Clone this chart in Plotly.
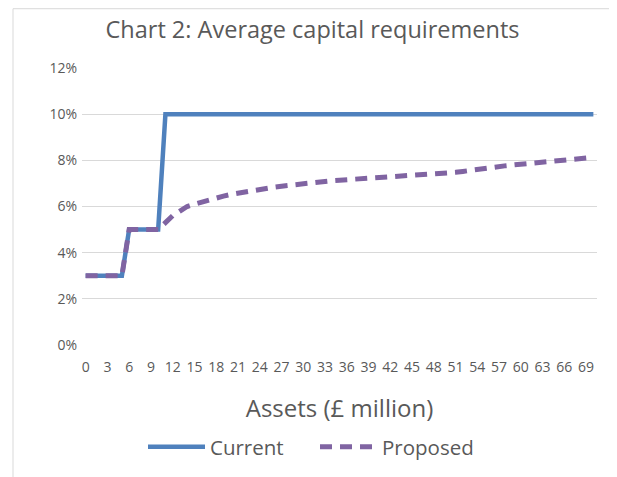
import plotly.graph_objects as go

assets = list(range(0, 71))
current = [3]*6 + [5]*5 + [10]*60
proposed = [3, 3, 3, 3, 3, 3, 5, 5, 5, 5, 5,
            5.3, 5.6, 5.8, 6.0, 6.1, 6.2, 6.3, 6.38, 6.45, 6.52,
            6.58, 6.64, 6.7, 6.75, 6.8, 6.84, 6.88, 6.92, 6.96, 7.0,
            7.03, 7.06, 7.09, 7.12, 7.14, 7.16, 7.18, 7.2, 7.21, 7.22,
            7.24, 7.26, 7.28, 7.3, 7.32, 7.35, 7.37, 7.39, 7.42, 7.45,
            7.48, 7.52, 7.57, 7.62, 7.66, 7.7, 7.74, 7.77, 7.8, 7.83,
            7.86, 7.89, 7.93, 7.97, 8.0, 8.03, 8.06, 8.08, 8.11, 8.13]
x_ticks = list(range(0, 70, 3))
y_ticks = [0, 0.02, 0.04, 0.06, 0.08, 0.10, 0.12]

# page has an 8px body margin; work in figure coordinates (page - 8)
W, H = 609, 469
L, R, T, B = 74, 20, 60, 131
pw, ph = W - L - R, H - T - B

def px(xp):
    return (xp - L) / pw

def py(yp):
    return (H - B - yp) / ph

FONT = "Open Sans"
GREY = "#595959"

fig = go.Figure()
fig.add_trace(go.Scatter(
    x=assets, y=[v / 100 for v in current], mode="lines", name="Current",
    line=dict(color="#4F81BD", width=4.5)))
fig.add_trace(go.Scatter(
    x=assets, y=[v / 100 for v in proposed], mode="lines", name="Proposed",
    line=dict(color="#8064A2", width=5, dash="12px,8px")))

fig.update_layout(
    width=W, height=H,
    margin=dict(l=L, r=R, t=T, b=B),
    paper_bgcolor="white", plot_bgcolor="white",
    font=dict(family=FONT, color=GREY, size=12),
    title=dict(text="Chart 2: Average capital requirements", x=0.5, xanchor="center",
               y=1 - 22 / H, yanchor="middle", font=dict(size=23.5, color=GREY, family=FONT)),
    showlegend=True,
    legend=dict(orientation="h", x=px(135), xanchor="left", y=py(439), yanchor="middle",
                font=dict(size=20.5, color=GREY, family=FONT), itemwidth=57,
                entrywidth=100, entrywidthmode="pixels"),
    shapes=[dict(type="rect", xref="paper", yref="paper",
                 x0=px(5), x1=px(605), y0=py(472), y1=py(0.5),
                 line=dict(color="#D9D9D9", width=1), fillcolor="rgba(0,0,0,0)", layer="below")],
)
fig.update_xaxes(
    range=[-0.5, 70.5], tickmode="array", tickvals=x_ticks,
    ticktext=[str(v) for v in x_ticks], tickangle=0,
    showgrid=False, zeroline=False, showline=False, ticks="",
    ticklabelstandoff=12,
    tickfont=dict(size=14, color=GREY, family=FONT),
    title=dict(text="Assets (£ million)", font=dict(size=24, color=GREY, family=FONT), standoff=25),
)
fig.update_yaxes(
    range=[0, 0.12], tickmode="array", tickvals=y_ticks, tickformat=".0%",
    showgrid=True, gridcolor="#D9D9D9", gridwidth=1, zeroline=False, showline=False,
    ticks="", ticklabelstandoff=4,
    tickfont=dict(size=14, color=GREY, family=FONT),
)

fig.write_html("out.html")
